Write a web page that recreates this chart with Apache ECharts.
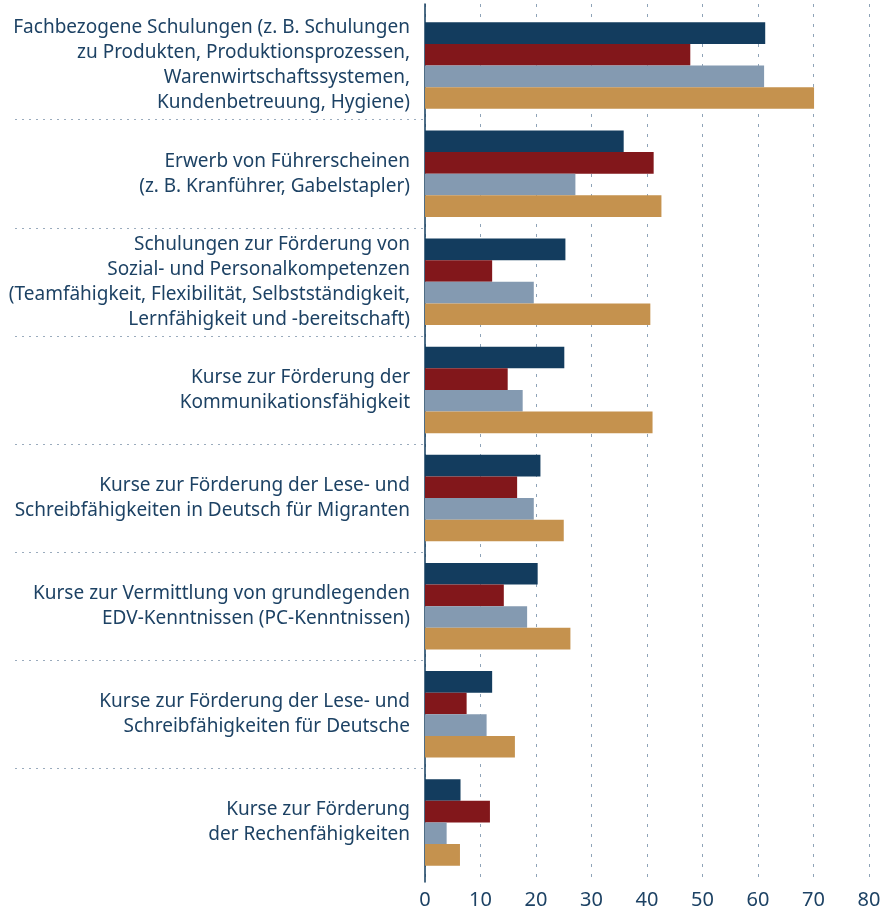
<!DOCTYPE html>
<html>
<head>
<meta charset="utf-8">
<script src="https://cdn.jsdelivr.net/npm/echarts@6/dist/echarts.min.js"></script>
<style>
  html, body { margin: 0; padding: 0; background: #fff; }
  #chart { width: 887px; height: 910px; }
</style>
</head>
<body>
<div id="chart"></div>
<script>
// Kategorien (von oben nach unten)
var categories = [
    'Fachbezogene Schulungen (z. B. Schulungen\nzu Produkten, Produktionsprozessen,\nWarenwirtschaftssystemen,\nKundenbetreuung, Hygiene)',
    'Erwerb von Führerscheinen\n(z. B. Kranführer, Gabelstapler)',
    'Schulungen zur Förderung von\nSozial- und Personalkompetenzen\n(Teamfähigkeit, Flexibilität, Selbstständigkeit,\nLernfähigkeit und -bereitschaft)',
    'Kurse zur Förderung der\nKommunikationsfähigkeit',
    'Kurse zur Förderung der Lese- und\nSchreibfähigkeiten in Deutsch für Migranten',
    'Kurse zur Vermittlung von grundlegenden\nEDV-Kenntnissen (PC-Kenntnissen)',
    'Kurse zur Förderung der Lese- und\nSchreibfähigkeiten für Deutsche',
    'Kurse zur Förderung\nder Rechenfähigkeiten'
];

// Werte je Reihe
var serie1 = [61.3, 35.8, 25.3, 25.1, 20.8, 20.3, 12.1, 6.4];
var serie2 = [47.8, 41.2, 12.1, 14.9, 16.6, 14.2, 7.5, 11.7];
var serie3 = [61.1, 27.1, 19.6, 17.6, 19.6, 18.4, 11.1, 3.9];
var serie4 = [70.1, 42.6, 40.6, 41.0, 25.0, 26.2, 16.2, 6.3];

var xTicks = [0, 80, 10]; // min, max, interval

var textColor = '#1d4264';
var fontFam = '"Noto Sans", sans-serif';

var myDom = document.getElementById('chart');
var myChart = echarts.init(myDom);

function barSerie(name, data, color) {
    return {
        name: name,
        type: 'bar',
        xAxisIndex: 1,
        yAxisIndex: 1,
        barGap: '0%',
        barCategoryGap: '20%',
        itemStyle: { color: color },
        data: data
    };
}

myChart.setOption({
    animation: false,
    textStyle: { fontFamily: fontFam },
    grid: [
        // aussen: Achsenlinie, Gitterlinien, x-Beschriftung
        { left: 425, right: 18, top: 4, bottom: 25 },
        // innen: Balken und Kategorie-Beschriftung
        { left: 425, right: 18, top: 11.5, bottom: 33.5 },
        // links: Trennlinien zwischen den Kategorien
        { left: 15, width: 410, top: 11.5, bottom: 33.5 }
    ],
    xAxis: [
        {
            gridIndex: 0,
            type: 'value',
            min: xTicks[0],
            max: xTicks[1],
            interval: xTicks[2],
            axisLine: { show: false },
            axisTick: { show: false },
            axisLabel: { color: textColor, fontSize: 20, margin: 8, fontFamily: fontFam },
            splitLine: { show: true, lineStyle: { color: '#8ea3b8', type: [3, 7], width: 1 } }
        },
        {
            gridIndex: 1,
            type: 'value',
            min: xTicks[0],
            max: xTicks[1],
            show: false
        },
        {
            gridIndex: 2,
            type: 'value',
            show: false
        }
    ],
    yAxis: [
        {
            gridIndex: 0,
            type: 'category',
            data: categories,
            axisLine: { show: true, lineStyle: { color: '#133c5e', width: 1.5 } },
            axisTick: { show: false },
            axisLabel: { show: false },
            splitLine: { show: false }
        },
        {
            gridIndex: 1,
            type: 'category',
            inverse: true,
            data: categories,
            axisLine: { show: false },
            axisTick: { show: false },
            axisLabel: {
                color: textColor,
                fontSize: 19,
                lineHeight: 25,
                margin: 15,
                align: 'right',
                fontFamily: fontFam
            }
        },
        {
            gridIndex: 2,
            type: 'category',
            inverse: true,
            data: categories,
            axisLine: { show: false },
            axisTick: { show: false },
            axisLabel: { show: false },
            splitLine: {
                show: true,
                showMinLine: false,
                showMaxLine: false,
                lineStyle: { color: '#9aabbd', type: [2, 5], width: 1 }
            }
        }
    ],
    series: [
        barSerie('Serie 1', serie1, '#133c5e'),
        barSerie('Serie 2', serie2, '#82171b'),
        barSerie('Serie 3', serie3, '#849ab1'),
        barSerie('Serie 4', serie4, '#c5924e')
    ]
});
</script>
</body>
</html>
